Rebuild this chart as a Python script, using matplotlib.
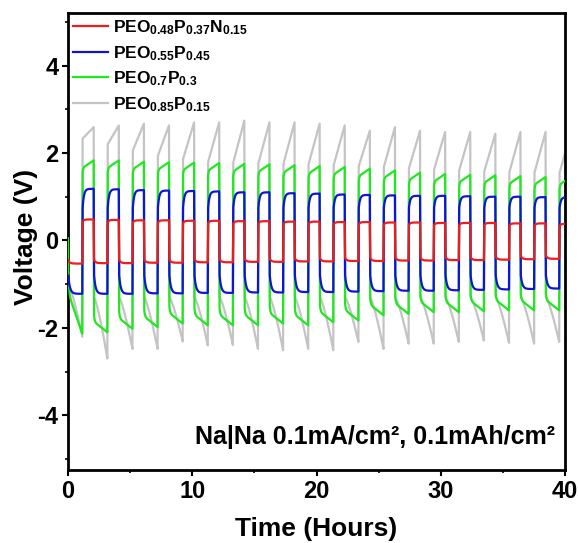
import numpy as np
import matplotlib
matplotlib.use('Agg')
import matplotlib.pyplot as plt
from matplotlib.ticker import MultipleLocator

plt.rcParams['font.family'] = ['Liberation Sans', 'DejaVu Sans']
plt.rcParams['font.weight'] = 'bold'
plt.rcParams['mathtext.default'] = 'regular'
plt.rcParams['axes.unicode_minus'] = False

# cycling protocol (hours)
first_charge = 1.15
cycle_h = 2.02
charge_h = 0.92
t_end = 40.0
n_cycles = 20

labels = [r'PEO$_{0.48}$P$_{0.37}$N$_{0.15}$', r'PEO$_{0.55}$P$_{0.45}$',
          r'PEO$_{0.7}$P$_{0.3}$', r'PEO$_{0.85}$P$_{0.15}$']
colors = ['#ee1c1c', '#1212d8', '#1ee81e', '#c4c4c4']

# voltage at t = 0
v_init = [-0.45, -0.98, 0.05, -1.0]

# per cycle levels (V): charge half = pos, discharge half = neg
red_pos = [0.48, 0.47, 0.46, 0.46, 0.45, 0.45, 0.44, 0.44, 0.43, 0.43,
           0.42, 0.42, 0.41, 0.41, 0.40, 0.40, 0.40, 0.39, 0.39, 0.38]
red_neg = [-0.53, -0.52, -0.52, -0.51, -0.51, -0.50, -0.50, -0.49, -0.49, -0.48,
           -0.48, -0.47, -0.47, -0.46, -0.46, -0.45, -0.45, -0.44, -0.43, -0.42]

blue_pos = [1.18, 1.17, 1.15, 1.14, 1.13, 1.12, 1.10, 1.10, 1.08, 1.07,
            1.05, 1.04, 1.03, 1.02, 1.02, 1.01, 1.00, 1.00, 0.99, 0.99]
blue_neg = [-1.22, -1.22, -1.22, -1.21, -1.21, -1.20, -1.20, -1.19, -1.19, -1.18,
            -1.18, -1.17, -1.16, -1.15, -1.15, -1.14, -1.13, -1.12, -1.11, -1.10]

green_pos = [1.83, 1.83, 1.80, 1.79, 1.78, 1.77, 1.75, 1.74, 1.72, 1.70,
             1.68, 1.64, 1.60, 1.55, 1.52, 1.50, 1.49, 1.47, 1.45, 1.45]
green_neg = [-2.13, -2.10, -2.02, -1.98, -1.90, -1.94, -1.94, -1.94, -1.90, -1.94,
             -1.87, -1.83, -1.71, -1.68, -1.64, -1.64, -1.62, -1.60, -1.60, -1.60]

gray_rise_from = [2.33, 2.20, 2.06, 1.94, 1.86, 1.80, 1.78, 1.76, 1.75, 1.74,
                  1.72, 1.70, 1.68, 1.65, 1.62, 1.60, 1.58, 1.56, 1.55, 1.55]
gray_peak = [2.59, 2.63, 2.67, 2.63, 2.70, 2.70, 2.74, 2.70, 2.70, 2.67,
             2.63, 2.51, 2.59, 2.51, 2.48, 2.48, 2.44, 2.48, 2.48, 2.45]
gray_drop_from = [-1.0, -1.30, -1.30, -1.30, -1.30, -1.30, -1.30, -1.30, -1.30, -1.30,
                  -1.30, -1.30, -1.30, -1.30, -1.30, -1.30, -1.30, -1.30, -1.30, -1.30]
gray_min = [-2.20, -2.70, -2.48, -2.48, -2.31, -2.40, -2.39, -2.48, -2.51, -2.48,
            -2.51, -2.32, -2.48, -2.36, -2.36, -2.32, -2.29, -2.34, -2.36, -2.32]


def half(t0, t1, a, b, shape, n=40):
    s = np.linspace(0, 1, n)
    if shape == 'knee':      # fast approach to plateau, rounded corner
        v = b + (a - b) * np.exp(-s / 0.12)
    elif shape == 'slope':   # small step then slow drift
        v = a + (b - a) * s + (a - b) * 0.6 * np.exp(-s / 0.05)
    elif shape == 'accel':   # polarisation growing over the half cycle
        v = a + (b - a) * s ** 1.3
    else:
        v = a + (b - a) * s
    return t0 + (t1 - t0) * s, v


def trace(v0, neg_a, neg_b, pos_a, pos_b, neg_shape, pos_shape):
    ts, vs = [np.array([0.0])], [np.array([v0])]
    for k in range(n_cycles):
        up = first_charge + k * cycle_h
        start = 0.02 if k == 0 else up - cycle_h + charge_h + 0.03
        t, v = half(start, up, neg_a[k], neg_b[k], neg_shape)
        ts.append(t); vs.append(v)
        t, v = half(up + 0.03, up + charge_h, pos_a[k], pos_b[k], pos_shape)
        keep = t <= t_end
        ts.append(t[keep]); vs.append(v[keep])
    return np.concatenate(ts), np.concatenate(vs)


series = [
    trace(v_init[0], [x + 0.07 for x in red_neg], red_neg,
          [x - 0.05 for x in red_pos], red_pos, 'knee', 'knee'),
    trace(v_init[1], [-0.80] * n_cycles, blue_neg,
          [0.75] * n_cycles, blue_pos, 'knee', 'knee'),
    trace(v_init[2], [-1.2] + [x + 0.24 for x in green_neg[1:]], green_neg,
          [x - 0.17 for x in green_pos], green_pos, 'slope', 'slope'),
    trace(v_init[3], gray_drop_from, gray_min,
          gray_rise_from, gray_peak, 'accel', 'lin'),
]

fig = plt.figure(figsize=(5.78, 5.43), dpi=100)
ax = fig.add_axes([0.1176, 0.1344, 0.86, 0.8416])

handles = []
for i in [3, 2, 1, 0]:
    t, v = series[i]
    h, = ax.plot(t, v, color=colors[i], lw=1.6, label=labels[i], zorder=2 + (3 - i))
    handles.append(h)
handles = handles[::-1]

ax.set_xlim(0, 40)
ax.set_ylim(-5.25, 5.2)
ax.xaxis.set_major_locator(MultipleLocator(10))
ax.xaxis.set_minor_locator(MultipleLocator(5))
ax.yaxis.set_major_locator(MultipleLocator(2))
ax.yaxis.set_minor_locator(MultipleLocator(1))
ax.set_yticks([-4, -2, 0, 2, 4])
ax.tick_params(which='major', length=4, width=1.5, labelsize=17, pad=3)
ax.tick_params(which='minor', length=2.5, width=1.2)
for sp in ax.spines.values():
    sp.set_linewidth(2)

ax.set_xlabel('Time (Hours)', fontsize=19, fontweight='bold', labelpad=10)
ax.set_ylabel('Voltage (V)', fontsize=19, fontweight='bold')
ax.yaxis.set_label_coords(-0.06, 0.51)

ax.legend(handles=handles, loc='upper left', frameon=False, fontsize=12.5,
          handlelength=2.0, handletextpad=0.3, labelspacing=0.4,
          borderaxespad=0.0, borderpad=0.3)

ax.text(0.98, 0.045, 'Na|Na 0.1mA/cm\u00b2, 0.1mAh/cm\u00b2', transform=ax.transAxes,
        ha='right', va='bottom', fontsize=18, fontweight='bold')

fig.savefig('out.png', dpi=100)
